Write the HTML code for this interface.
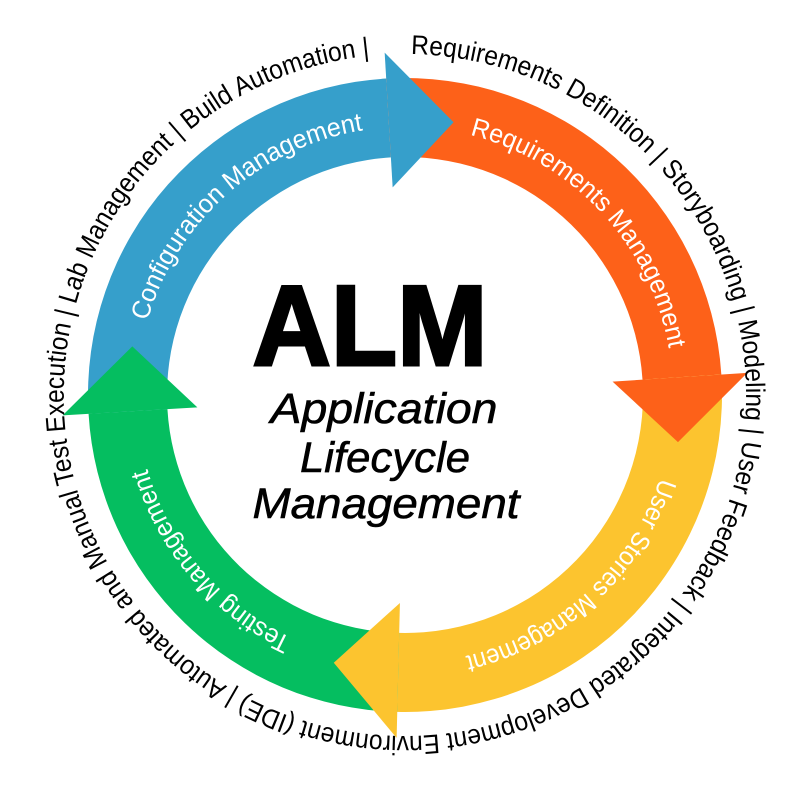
<!DOCTYPE html>
<html><head><meta charset="utf-8">
<style>
html,body{margin:0;padding:0;background:#fff;}
svg{display:block;}
</style></head>
<body>
<svg id="chart" width="800" height="800" viewBox="0 0 800 800" xmlns="http://www.w3.org/2000/svg">
  <defs id="defs"></defs>
  <g id="bodies"></g>
  <g id="heads"></g>
  <g id="labels"></g>
  <g>
    <text x="370" y="365" text-anchor="middle" textLength="235" lengthAdjust="spacingAndGlyphs" font-family="Liberation Sans, sans-serif" font-weight="bold" font-size="114" fill="#000" stroke="#000" stroke-width="3">ALM</text>
    <text x="384" y="423" text-anchor="middle" textLength="227" lengthAdjust="spacingAndGlyphs" font-family="Liberation Sans, sans-serif" font-style="italic" font-size="43" fill="#000" stroke="#000" stroke-width="0.6">Application</text>
    <text x="385" y="472" text-anchor="middle" textLength="170" lengthAdjust="spacingAndGlyphs" font-family="Liberation Sans, sans-serif" font-style="italic" font-size="43" fill="#000" stroke="#000" stroke-width="0.6">Lifecycle</text>
    <text x="386" y="518" text-anchor="middle" textLength="267" lengthAdjust="spacingAndGlyphs" font-family="Liberation Sans, sans-serif" font-style="italic" font-size="43" fill="#000" stroke="#000" stroke-width="0.6">Management</text>
  </g>
  <g id="outer"></g>
</svg>
<script>
const segNames = ["configuration", "requirements", "user-stories", "testing"];
const segLabels = ["Configuration Management", "Requirements Management", "User Stories Management", "Testing Management"];
const segStart = [176.6, 266.6, 356.3, 91.4];
const segEnd = [266.6, 356.3, 451.4, 176.6];
const segColors = ["#369fcb", "#fd6119", "#fcc42f", "#05be60"];
const labelStart = [196, 284, 18, 115];
const labelEnd = [261, 350, 77, 164];
const outerText = "Requirements Definition  |  Storyboarding  |  Modeling  |  User Feedback  |  Integrated Development Environment (IDE)  |  Automated and Manual Test Execution  |  Lab Management  |  Build Automation  |";

const NS = "http://www.w3.org/2000/svg";
const cx = 405, cy = 395, rOut = 317, rIn = 238, rMid = 277, hIn = 208, hOut = 343, headLen = 13.5;
function pt(a, r) { const t = a * Math.PI / 180; return [cx + r * Math.cos(t), cy + r * Math.sin(t)]; }
function f(p) { return p[0].toFixed(2) + " " + p[1].toFixed(2); }
function arcPath(a0, a1, r) {
  const large = (a1 - a0) > 180 ? 1 : 0;
  return "M " + f(pt(a0, r)) + " A " + r + " " + r + " 0 " + large + " 1 " + f(pt(a1, r));
}
const bodies = document.getElementById("bodies");
const heads = document.getElementById("heads");
const labels = document.getElementById("labels");
const defs = document.getElementById("defs");

for (let i = 0; i < segNames.length; i++) {
  const a0 = segStart[i], a1 = segEnd[i];
  const body = document.createElementNS(NS, "path");
  const d = "M " + f(pt(a0, rOut)) + " A " + rOut + " " + rOut + " 0 0 1 " + f(pt(a1, rOut)) +
    " L " + f(pt(a1, rIn)) + " A " + rIn + " " + rIn + " 0 0 0 " + f(pt(a0, rIn)) + " Z";
  body.setAttribute("d", d);
  body.setAttribute("fill", segColors[i]);
  
  
  bodies.appendChild(body);

  const head = document.createElementNS(NS, "path");
  head.setAttribute("d", "M " + f(pt(a1, hIn)) + " L " + f(pt(a1, hOut)) + " L " + f(pt(a1 + headLen, rMid)) + " Z");
  head.setAttribute("fill", segColors[i]);
  
  
  heads.appendChild(head);

  const pid = "lp" + i;
  const lp = document.createElementNS(NS, "path");
  lp.setAttribute("id", pid);
  lp.setAttribute("d", arcPath(labelStart[i], labelEnd[i], rMid - 9));
  lp.setAttribute("fill", "none");
  defs.appendChild(lp);
  const len = 2 * Math.PI * (rMid - 9) * (labelEnd[i] - labelStart[i]) / 360;
  const tx = document.createElementNS(NS, "text");
  tx.setAttribute("font-family", "Liberation Sans, sans-serif");
  tx.setAttribute("font-size", "26");
  tx.setAttribute("fill", "#fff");
  
  
  const tp = document.createElementNS(NS, "textPath");
  tp.setAttribute("href", "#" + pid);
  tp.setAttribute("textLength", len.toFixed(1));
  tp.setAttribute("lengthAdjust", "spacingAndGlyphs");
  tp.textContent = segLabels[i];
  tx.appendChild(tp);
  labels.appendChild(tx);
}

// outer ring text
const oStart = -89, oEnd = 264, oR = 341;
const op = document.createElementNS(NS, "path");
op.setAttribute("id", "outerPath");
op.setAttribute("d", arcPath(oStart, oStart + 180, oR) + " A " + oR + " " + oR + " 0 0 1 " + f(pt(oStart + 359.9, oR)));
op.setAttribute("fill", "none");
defs.appendChild(op);
const olen = 2 * Math.PI * oR * (oEnd - oStart) / 360;
const ot = document.createElementNS(NS, "text");
ot.setAttribute("font-family", "Liberation Sans, sans-serif");
ot.setAttribute("font-size", "27");
ot.setAttribute("fill", "#000");


const otp = document.createElementNS(NS, "textPath");
otp.setAttribute("href", "#outerPath");
otp.setAttribute("textLength", olen.toFixed(1));
otp.setAttribute("lengthAdjust", "spacingAndGlyphs");
otp.textContent = outerText;
ot.appendChild(otp);
document.getElementById("outer").appendChild(ot);
</script>
</body></html>
